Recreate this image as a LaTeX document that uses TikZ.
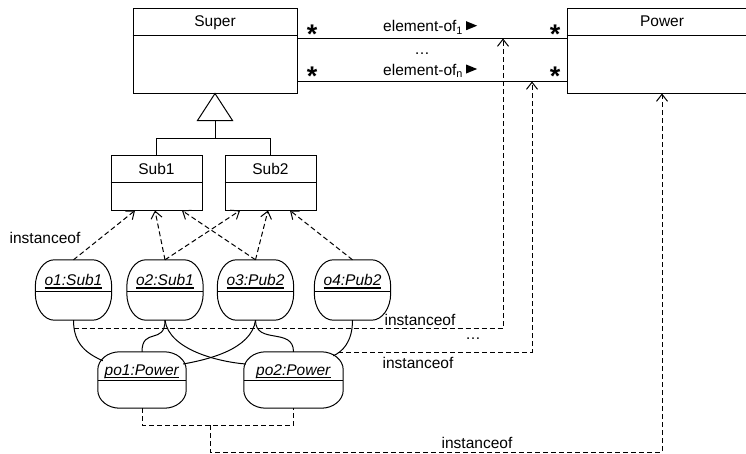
\documentclass[tikz,border=0pt]{standalone}
\usepackage{fontspec}
\setmainfont{Liberation Sans}
\usetikzlibrary{arrows.meta}

% outline of an object box: rectangle with elliptical corners
% #1 node name, #2 corner x radius, #3 corner y radius
\newcommand\objoutline[3]{%
  \draw[link] ([yshift=-#3]#1.north west)
    arc[start angle=180,end angle=90,x radius=#2,y radius=#3]
    -- ([xshift=-#2]#1.north east)
    arc[start angle=90,end angle=0,x radius=#2,y radius=#3]
    -- ([yshift=#3]#1.south east)
    arc[start angle=0,end angle=-90,x radius=#2,y radius=#3]
    -- ([xshift=#2]#1.south west)
    arc[start angle=270,end angle=180,x radius=#2,y radius=#3]
    -- cycle;}

% text with a heavy underline
\newcommand\ulabel[1]{\setbox0=\hbox{#1}\rlap{\copy0}\rule[-3pt]{\wd0}{1.6pt}}

\tikzset{
  link/.style={line width=1pt},
  classbox/.style={draw, line width=1pt, rectangle, inner sep=0pt},
  objbox/.style={rectangle, inner sep=0pt},
  classtitle/.style={inner sep=0pt, text height=11pt, text depth=0pt},
  dep/.style={line width=1pt, dash pattern=on 5pt off 3pt},
  inst/.style={dep, -{Straight Barb[length=7pt,width=11pt]}},
  lbl/.style={inner sep=0pt, anchor=base},
  mult/.style={inner sep=0pt, anchor=base, font=\fontsize{27}{27}\selectfont\bfseries},
}

\begin{document}
\begin{tikzpicture}[x=1pt,y=-1pt,font=\fontsize{15.5}{18}\selectfont]
\useasboundingbox (0,0) rectangle (746,453);
\clip (0,0) rectangle (746,453);

% classes
\node[classbox, minimum width=164pt, minimum height=85pt] (Super) at (215,50.5) {};
\node[classbox, minimum width=190pt, minimum height=85pt] (Power) at (662,50.5) {};
\node[classbox, minimum width=91pt, minimum height=55pt] (Sub1) at (156.5,182.5) {};
\node[classbox, minimum width=91pt, minimum height=55pt] (Sub2) at (270.5,182.5) {};
\foreach \c/\d in {Super/27.5pt, Power/27.5pt, Sub1/28pt, Sub2/28pt}
  \draw[link] ([yshift=-\d]\c.north west) -- ([yshift=-\d]\c.north east);
\node[classtitle] at ([yshift=-13.5pt]Super.north) {Super};
\node[classtitle] at ([yshift=-13.5pt]Power.north) {Power};
\node[classtitle] at ([yshift=-14pt]Sub1.north) {Sub1};
\node[classtitle] at ([yshift=-14pt]Sub2.north) {Sub2};

% generalization
\draw[link, fill=white] (Super.south) -- ++(-17.5,27) -- ++(35,0) -- cycle;
\coordinate (gbase) at ([yshift=-27pt]Super.south);
\coordinate (gjoin) at ([yshift=-45pt]Super.south);
\draw[link] (gbase) -- (gjoin);
\draw[link] (Sub1.north) |- (gjoin) -| (Sub2.north);

% associations
\draw[link] ([yshift=-30.5pt]Super.north east) -- ([yshift=-30.5pt]Power.north west);
\draw[link] ([yshift=-73.5pt]Super.north east) -- ([yshift=-73.5pt]Power.north west);
\node[lbl, anchor=base west] (e1) at (383,31.7) {element-of\textsubscript{1}};
\node[lbl, anchor=base west] (en) at (383,75) {element-of\textsubscript{n}};
\fill ([xshift=3pt,yshift=1.5pt]e1.base east) -- ++(0,-9) -- ++(11,4.5) -- cycle;
\fill ([xshift=3pt,yshift=1.5pt]en.base east) -- ++(0,-9) -- ++(11,4.5) -- cycle;
\node[lbl] at (422,54) {…};
\node[mult] at (312,43) {*};
\node[mult] at (555,43) {*};
\node[mult] at (312,85) {*};
\node[mult] at (555,85) {*};

% objects
\node[objbox, minimum width=76pt, minimum height=60pt] (o1) at (73.5,290) {};
\node[objbox, minimum width=76pt, minimum height=60pt] (o2) at (165,290) {};
\node[objbox, minimum width=76pt, minimum height=60pt] (o3) at (255.5,290) {};
\node[objbox, minimum width=76pt, minimum height=60pt] (o4) at (352.5,290) {};
\node[objbox, minimum width=88pt, minimum height=56pt] (po1) at (142,380) {};
\node[objbox, minimum width=99pt, minimum height=56pt] (po2) at (293.5,380) {};
\foreach \o in {o1,o2,o3,o4} {
  \objoutline{\o}{19pt}{27pt}
  \draw[link] ([yshift=-32pt]\o.north west) -- ([yshift=-32pt]\o.north east);
}
\foreach \o in {po1,po2} {
  \objoutline{\o}{22pt}{18pt}
  \draw[link] ([yshift=-29pt]\o.north west) -- ([yshift=-29pt]\o.north east);
}
\node[lbl] at ([yshift=-26pt]o1.north) {\ulabel{\textit{o1:Sub1}}};
\node[lbl] at ([yshift=-26pt]o2.north) {\ulabel{\textit{o2:Sub1}}};
\node[lbl] at ([yshift=-26pt]o3.north) {\ulabel{\textit{o3:Pub2}}};
\node[lbl] at ([yshift=-26pt]o4.north) {\ulabel{\textit{o4:Pub2}}};
\node[lbl] at ([yshift=-23.5pt]po1.north) {\ulabel{\textit{po1:Power}}};
\node[lbl] at ([yshift=-23.5pt]po2.north) {\ulabel{\textit{po2:Power}}};

% links between objects
\draw[link] (o1.south) .. controls +(0,25) and +(-15,-7) .. ([xshift=5pt,yshift=-9pt]po1.north west);
\draw[link] (o2.south) .. controls +(0,25) and +(0,-25) .. (po1.north);
\draw[link] (o2.south) .. controls +(4,30) and +(-26,-2) .. ([xshift=2pt,yshift=16pt]po2.west);
\draw[link] (o3.south) .. controls +(-4,30) and +(22,-4) .. ([xshift=-3pt,yshift=16pt]po1.east);
\draw[link] (o3.south) .. controls +(0,25) and +(0,-25) .. (po2.north);
\draw[link] (o4.south) .. controls +(0,22) and +(9,-4) .. ([xshift=-10pt,yshift=-4pt]po2.north east);

% instance-of dependencies to the classes
\node[lbl] at (45,243) {instanceof};
\draw[inst] (o1.north) -- ([xshift=-21.5pt]Sub1.south);
\draw[inst] (o2.north) -- ([xshift=-1.5pt]Sub1.south);
\draw[inst] (o2.north) -- ([xshift=-30.5pt]Sub2.south);
\draw[inst] (o3.north) -- ([xshift=25.5pt]Sub1.south);
\draw[inst] (o3.north) -- ([xshift=-2.5pt]Sub2.south);
\draw[inst] (o4.north) -- ([xshift=19.5pt]Sub2.south);

% instance-of dependencies of links and power objects
\coordinate (t1) at (503,38.5);
\coordinate (t2) at (532,81.5);
\coordinate (bstart) at (338,352);
\coordinate (cmid) at (210,425);
\draw[inst] ([yshift=-8pt]o1.south) -| (t1);
\draw[inst] (bstart) -| (t2);
\draw[dep] (po1.south) -- ++(0,17) -| (po2.south);
\draw[inst] (cmid) -- ++(0,27) -| (Power.south);
\node[lbl] at (420,325) {instanceof};
\node[lbl] at (473,339) {…};
\node[lbl] at (418,368) {instanceof};
\node[lbl] at (477,448) {instanceof};
\end{tikzpicture}
\end{document}
